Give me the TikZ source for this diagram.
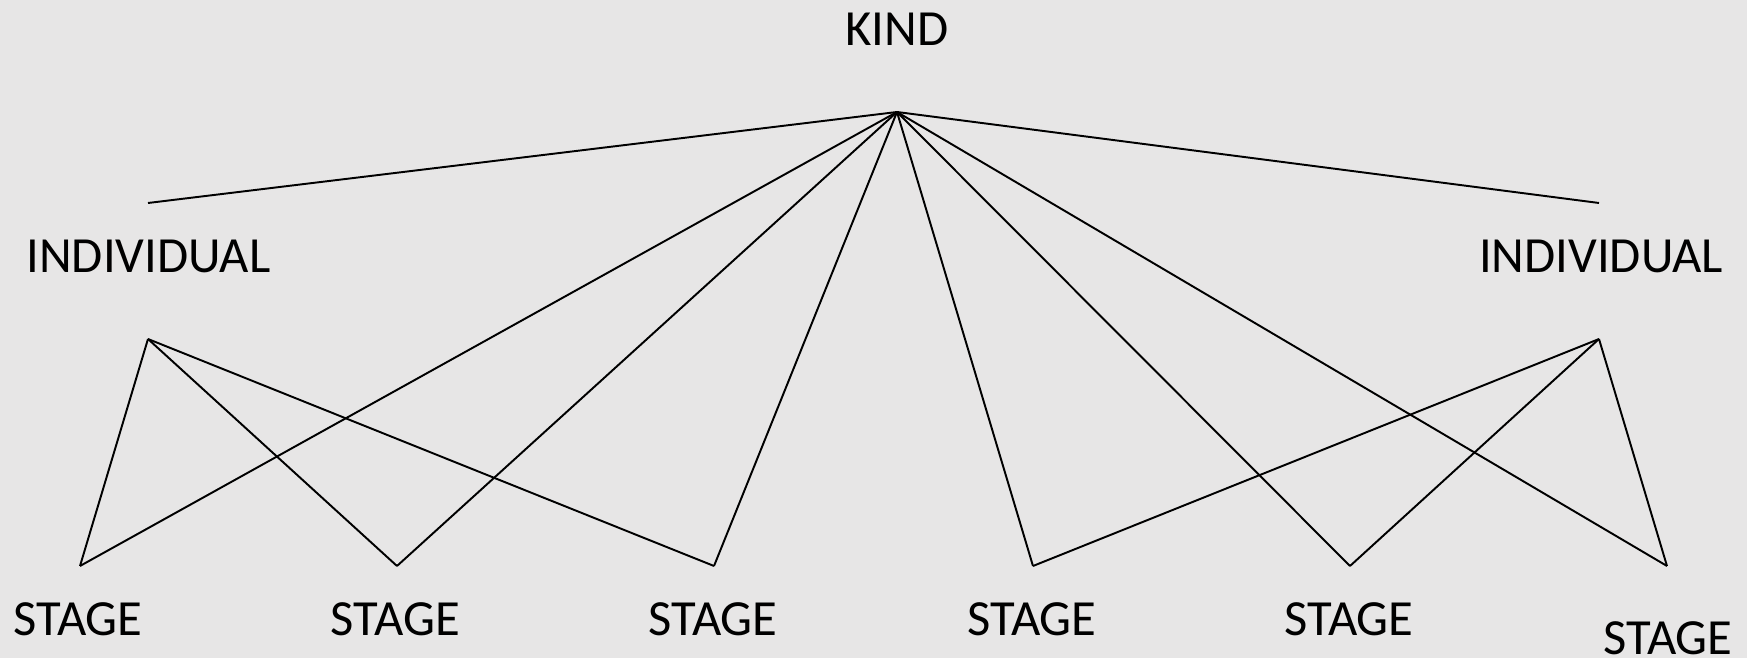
\documentclass[tikz,border=0pt]{standalone}
\usepackage{fontspec}
\setmainfont{Carlito}
\usetikzlibrary{positioning}
\definecolor{canvas}{HTML}{E7E6E6}
\tikzset{
  term/.style={font=\fontsize{14.4}{16}\selectfont,inner sep=0pt,text=black},
  link/.style={draw=black,line width=0.55pt,line join=round}
}
\begin{document}
\begin{tikzpicture}[x=0.01cm,y=-0.01cm]
  \fill[canvas] (0,0) rectangle (1747,658);
  \useasboundingbox (0,0) rectangle (1747,658);
  % labels
  \node[term] (kind) at (897,29) {KIND};
  \node[term] (indivL) at (148.5,256) {INDIVIDUAL};
  \node[term] (indivR) at (1601,256) {INDIVIDUAL};
  \foreach \i/\x/\y in {1/78/619.5,2/395.5/619.5,3/713/619.5,4/1032/619.5,5/1349/619.5,6/1668/638}
    \node[term] (stage\i) at (\x,\y) {STAGE};
  % end points of the links
  \coordinate (top) at (897,112);
  \coordinate (endL) at (148,203);
  \coordinate (endR) at (1599,203);
  \coordinate (hubL) at (148,339);
  \coordinate (hubR) at (1599,339);
  \foreach \i/\x in {1/80,2/397,3/714,4/1033,5/1350,6/1667}
    \coordinate (tip\i) at (\x,566);
  % links
  \draw[link] (endL) -- (top) -- (endR);
  \foreach \i in {1,...,6}
    \draw[link] (top) -- (tip\i);
  \foreach \i in {1,2,3}
    \draw[link] (hubL) -- (tip\i);
  \foreach \i in {4,5,6}
    \draw[link] (hubR) -- (tip\i);
\end{tikzpicture}
\end{document}
